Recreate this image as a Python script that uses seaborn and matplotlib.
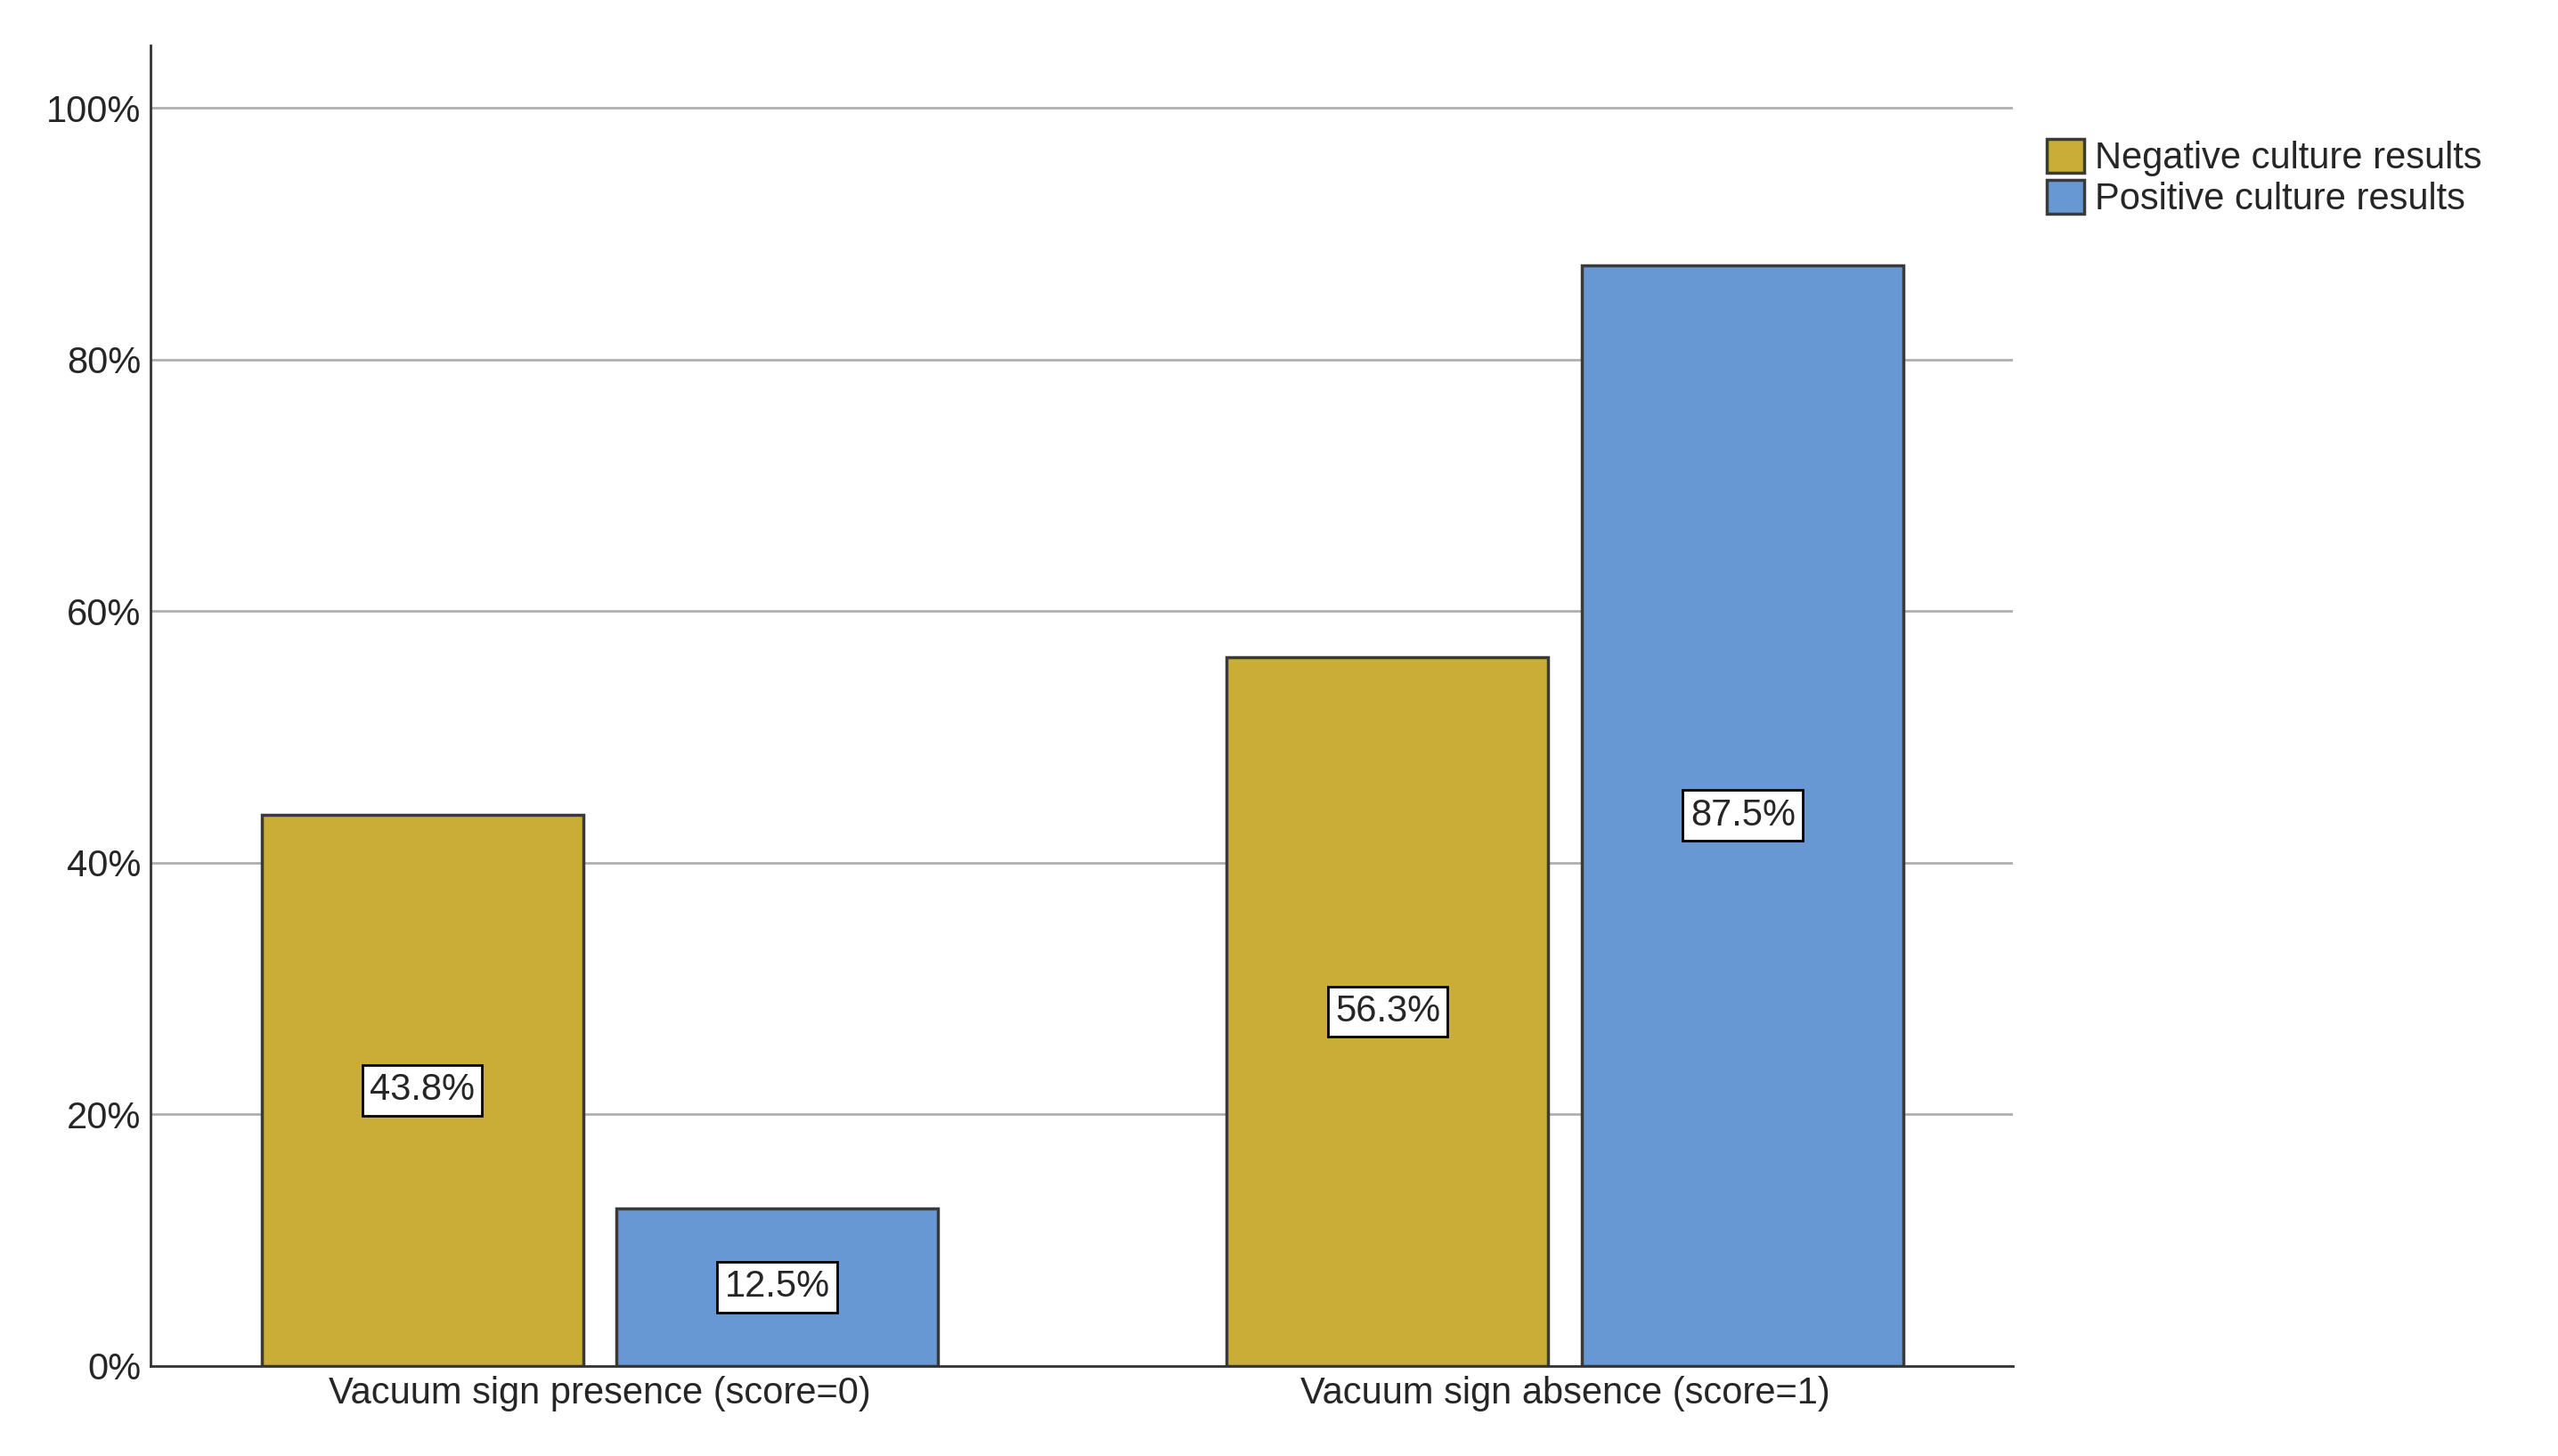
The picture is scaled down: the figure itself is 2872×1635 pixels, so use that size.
import seaborn as sns
import pandas as pd
import matplotlib.pyplot as plt
from matplotlib.ticker import PercentFormatter

categories = ['Vacuum sign presence (score=0)', 'Vacuum sign absence (score=1)']
groups = ['Negative culture results', 'Positive culture results']
negative = [43.8, 56.3]
positive = [12.5, 87.5]

df = pd.DataFrame({
    'cat': categories * 2,
    'grp': [groups[0]] * 2 + [groups[1]] * 2,
    'val': negative + positive,
})

sns.set_style('white')
plt.rcParams['font.family'] = ['Liberation Sans', 'DejaVu Sans']

fig = plt.figure(figsize=(28.72, 16.35), dpi=100)
ax = fig.add_axes([0.059, 0.062, 0.728, 0.907])
ax.set_axisbelow(True)
ax.yaxis.grid(True, color='#b0b0b0', linewidth=2)

sns.barplot(data=df, x='cat', y='val', hue='grp', order=categories, hue_order=groups,
            palette=['#E1BC1F', '#5596E6'], width=0.736, gap=0.095,
            edgecolor='#3a3a3a', linewidth=2.5, ax=ax)

for cont in ax.containers:
    for bar in cont:
        h = bar.get_height()
        ax.text(bar.get_x() + bar.get_width() / 2, h / 2, f'{h:.1f}%', ha='center', va='center',
                fontsize=30, bbox=dict(facecolor='white', edgecolor='black', linewidth=2, pad=6))

ax.set_xlim(-0.465, 1.464)
ax.set_ylim(0, 105)
ax.set_yticks([0, 20, 40, 60, 80, 100])
ax.yaxis.set_major_formatter(PercentFormatter(decimals=0))
ax.set_xlabel('')
ax.set_ylabel('')
ax.tick_params(axis='both', labelsize=30, length=0, pad=8)
for s in ['top', 'right']:
    ax.spines[s].set_visible(False)
for s in ['left', 'bottom']:
    ax.spines[s].set_color('#333333')
    ax.spines[s].set_linewidth(2)

leg = ax.legend(loc='upper left', bbox_to_anchor=(1.01, 0.94), frameon=False, fontsize=30,
                handlelength=1.0, handleheight=1.0, handletextpad=0.3, labelspacing=0.1,
                borderaxespad=0)

fig.savefig('out.png', dpi=100)
